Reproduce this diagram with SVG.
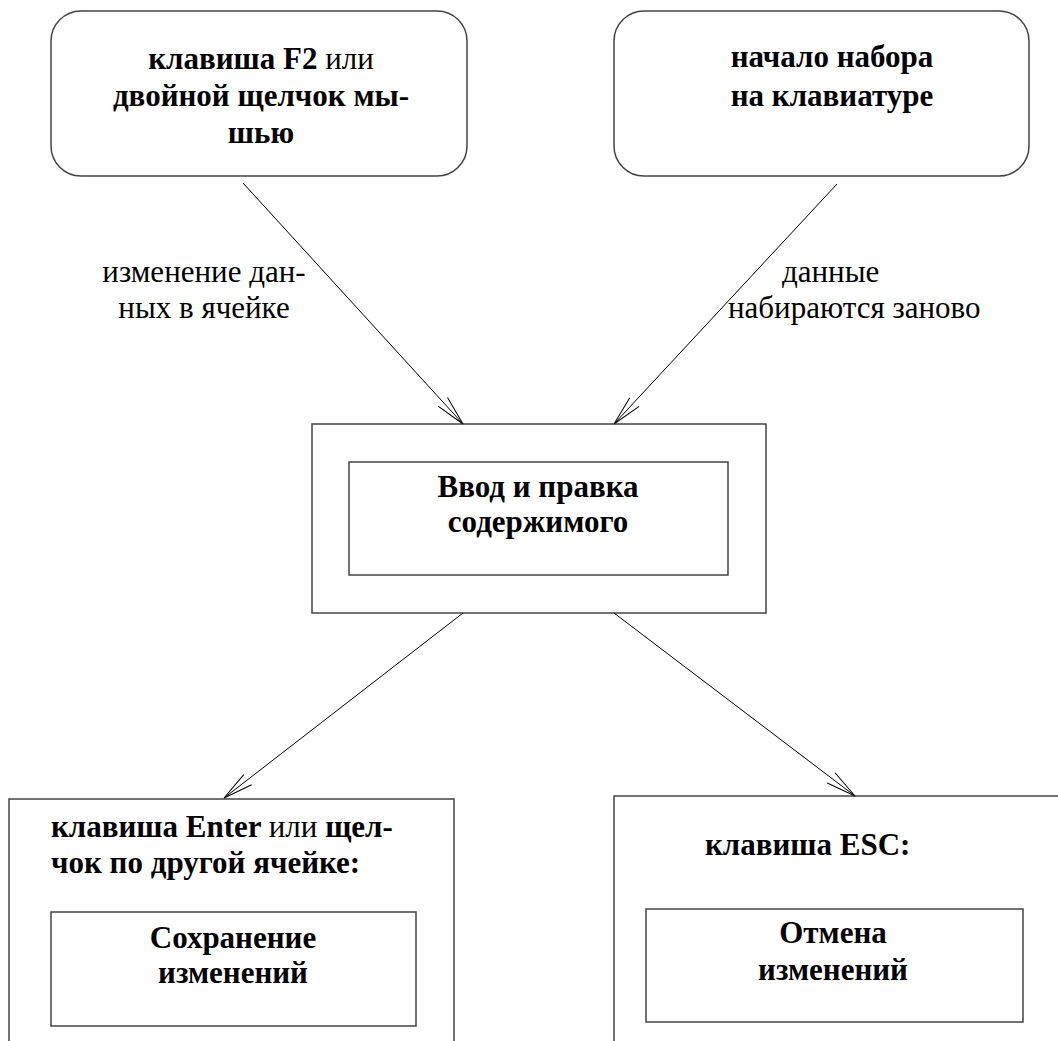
<svg xmlns="http://www.w3.org/2000/svg" width="1058" height="1041" viewBox="0 0 1058 1041">
<style>
.box{fill:#fff;stroke:#444;stroke-width:1.5}
.b{font-family:"Liberation Serif","Times New Roman",serif;font-weight:bold;font-size:31px;fill:#000}
.r{font-weight:normal}
.lbl{font-family:"Liberation Serif","Times New Roman",serif;font-size:31px;fill:#000}
.c{stroke:#000;stroke-width:1;fill:none;marker-end:url(#arr)}
</style>
<defs>
<marker id="arr" markerUnits="userSpaceOnUse" markerWidth="40" markerHeight="20" viewBox="-32 -10 34 20" refX="0" refY="0" orient="auto" overflow="visible">
<path d="M-30,-6.4 L0,0 L-30,6.4" fill="none" stroke="#000" stroke-width="1"/>
</marker>
</defs>
<rect width="1058" height="1041" fill="#fff"/>
<g id="n1">
<rect class="box" x="51" y="11" width="416" height="165" rx="30"/>
<text class="b" text-anchor="middle"><tspan x="261" y="69">клавиша F2 <tspan class="r">или</tspan></tspan><tspan x="261" y="106">двойной щелчок мы-</tspan><tspan x="261" y="143">шью</tspan></text>
</g>
<g id="n2">
<rect class="box" x="614" y="11" width="415" height="165" rx="30"/>
<text class="b" text-anchor="middle"><tspan x="832" y="67">начало набора</tspan><tspan x="832" y="106">на клавиатуре</tspan></text>
</g>
<g id="n3">
<rect class="box" x="312" y="424" width="454" height="189"/>
<rect class="box" x="349" y="462" width="379" height="113"/>
<text class="b" text-anchor="middle"><tspan x="538" y="497">Ввод и правка</tspan><tspan x="538" y="532">содержимого</tspan></text>
</g>
<g id="n4">
<rect class="box" x="9" y="799" width="445" height="260"/>
<text class="b"><tspan x="51" y="837">клавиша Enter <tspan class="r">или</tspan> щел-</tspan><tspan x="51" y="873">чок по другой ячейке:</tspan></text>
<rect class="box" x="51" y="912" width="365" height="114"/>
<text class="b" text-anchor="middle"><tspan x="233" y="948">Сохранение</tspan><tspan x="233" y="983">изменений</tspan></text>
</g>
<g id="n5">
<rect class="box" x="614" y="796" width="460" height="260"/>
<text class="b"><tspan x="705" y="855">клавиша ESC:</tspan></text>
<rect class="box" x="646" y="909" width="377" height="113"/>
<text class="b" text-anchor="middle"><tspan x="833" y="943">Отмена</tspan><tspan x="833" y="980">изменений</tspan></text>
</g>
<g id="connectors">
<line class="c" x1="243" y1="183" x2="463" y2="424"/>
<line class="c" x1="837" y1="184" x2="614" y2="424"/>
<line class="c" x1="463" y1="613" x2="224" y2="798"/>
<line class="c" x1="614" y1="613" x2="855" y2="796"/>
<text class="lbl" text-anchor="middle"><tspan x="204" y="282">изменение дан-</tspan><tspan x="204" y="318">ных в ячейке</tspan></text>
<text class="lbl"><tspan x="782" y="282">данные</tspan><tspan x="728" y="318">набираются заново</tspan></text>
</g>
</svg>
